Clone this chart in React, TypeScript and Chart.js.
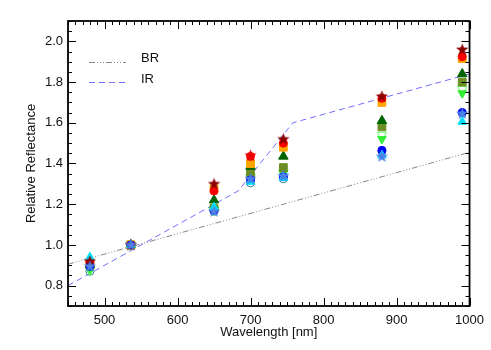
import { useEffect, useRef } from "react";
import { Chart, registerables } from "chart.js";
Chart.register(...registerables);

const wavelengths = [480, 536, 650, 700, 745, 880, 990];
const xTickLabels = [500, 600, 700, 800, 900, 1000];
const yTickLabels = [0.8, 1.0, 1.2, 1.4, 1.6, 1.8, 2.0];

const brX = [450, 1000];
const brY = [0.905, 1.455];
const irX = [450, 683, 758, 1000];
const irY = [0.8, 1.265, 1.6, 1.84];

const cornflowerStar = [0.895, 1.0, 1.165, 1.325, 1.34, 1.435, 1.645];
const darkredStar = [0.92, 1.0, 1.3, 1.44, 1.52, 1.73, 1.96];
const cyanTriangle = [0.94, 1.0, 1.185, 1.31, 1.33, 1.44, 1.605];
const blueCircle = [0.895, 1.0, 1.17, 1.32, 1.335, 1.465, 1.65];
const redCircle = [0.915, 1.0, 1.265, 1.435, 1.5, 1.72, 1.925];
const orangeSquare = [0.91, 1.0, 1.275, 1.4, 1.48, 1.7, 1.915];
const darkgreenTriangle = [0.905, 1.0, 1.22, 1.385, 1.435, 1.61, 1.84];
const oliveSquare = [0.9, 1.0, 1.18, 1.35, 1.38, 1.58, 1.8];
const limeTriangleDown = [0.88, 1.0, 1.175, 1.33, 1.35, 1.52, 1.745];
const openTriangleDown = [0.875, 1.0, 1.17, 1.335, 1.355, 1.54, 1.765];
const openCircle = [0.87, 1.0, 1.165, 1.305, 1.325, 1.46, 1.65];

function makeStar(color: string): HTMLCanvasElement {
  const c = document.createElement("canvas");
  c.width = 13;
  c.height = 13;
  const g = c.getContext("2d")!;
  const cx = 6.5, cy = 6.8, R = 6.4, r = 2.7;
  g.beginPath();
  for (let i = 0; i < 10; i++) {
    const ang = -Math.PI / 2 + (i * Math.PI) / 5;
    const rad = i % 2 === 0 ? R : r;
    const px = cx + rad * Math.cos(ang);
    const py = cy + rad * Math.sin(ang);
    if (i === 0) g.moveTo(px, py);
    else g.lineTo(px, py);
  }
  g.closePath();
  g.fillStyle = color;
  g.fill();
  return c;
}

function pts(ys: number[]) {
  return wavelengths.map((x, i) => ({ x, y: ys[i] }));
}
function linePts(xs: number[], ys: number[]) {
  return xs.map((x, i) => ({ x, y: ys[i] }));
}

const FONT = "'Liberation Sans', Arial, Helvetica, sans-serif";

const framePlugin = {
  id: "frame",
  afterDatasetsDraw(chart: any) {
    const { ctx, chartArea: a, scales } = chart;
    const x = scales.x, y = scales.y;
    ctx.save();
    ctx.strokeStyle = "#000";
    ctx.lineWidth = 1;
    ctx.beginPath();
    for (let v = 450; v <= 1000; v += 10) {
      const px = Math.round(x.getPixelForValue(v)) + 0.5;
      const L = v % 100 === 0 ? 8 : 4;
      ctx.moveTo(px, a.bottom);
      ctx.lineTo(px, a.bottom - L);
      ctx.moveTo(px, a.top);
      ctx.lineTo(px, a.top + L);
    }
    for (let i = 14; i <= 42; i++) {
      const py = Math.round(y.getPixelForValue(i * 0.05)) + 0.5;
      const L = i % 4 === 0 ? 8 : 4;
      ctx.moveTo(a.left, py);
      ctx.lineTo(a.left + L, py);
      ctx.moveTo(a.right, py);
      ctx.lineTo(a.right - L, py);
    }
    ctx.stroke();
    ctx.lineWidth = 1.8;
    ctx.strokeRect(a.left, a.top, a.right - a.left, a.bottom - a.top);

    // legend
    ctx.lineWidth = 1;
    ctx.strokeStyle = "#888";
    ctx.setLineDash([6, 2, 1, 2, 1, 2, 1, 2]);
    ctx.beginPath();
    ctx.moveTo(89, 62.5);
    ctx.lineTo(126, 62.5);
    ctx.stroke();
    ctx.strokeStyle = "#7070ff";
    ctx.setLineDash([6, 4]);
    ctx.beginPath();
    ctx.moveTo(89, 82.5);
    ctx.lineTo(126, 82.5);
    ctx.stroke();
    ctx.setLineDash([]);
    ctx.fillStyle = "#111";
    ctx.font = `13px ${FONT}`;
    ctx.textBaseline = "middle";
    ctx.textAlign = "left";
    ctx.fillText("BR", 141, 58);
    ctx.fillText("IR", 141, 79);
    ctx.restore();
  },
};

export default function App() {
  const ref = useRef<HTMLCanvasElement | null>(null);
  useEffect(() => {
    document.body.style.margin = "0";
    const canvas = ref.current!;
    const starDark = makeStar("#8b0000");
    const starRed = makeStar("#ee0000");
    const starBlue = makeStar("#4a80e8");

    const marker = (
      label: string,
      ys: number[],
      color: string,
      style: any,
      radius: number,
      extra: any = {}
    ) => ({
      type: "scatter" as const,
      label,
      data: pts(ys),
      pointStyle: style,
      pointRadius: radius,
      backgroundColor: color,
      borderColor: color,
      borderWidth: 1,
      showLine: false,
      ...extra,
    });

    const chart = new Chart(canvas, {
      type: "scatter",
      data: {
        datasets: [
          marker("cornflower star", cornflowerStar, "#4a80e8", starBlue, 6),
          marker(
            "darkred star",
            darkredStar,
            "#8b0000",
            wavelengths.map((w) => (w === 700 ? starRed : starDark)),
            6
          ),
          marker("cyan triangle", cyanTriangle, "#00e0ff", "triangle", 5),
          marker("blue circle", blueCircle, "#0000ff", "circle", 4),
          marker("red circle", redCircle, "#ff0000", "circle", 4),
          marker("orange square", orangeSquare, "#ffa500", "rect", 5.5),
          marker("darkgreen triangle", darkgreenTriangle, "#006400", "triangle", 5.5),
          marker("olive square", oliveSquare, "#6b8e23", "rect", 5.5),
          marker("lime triangle down", limeTriangleDown, "#33ee33", "triangle", 5, {
            rotation: 180,
          }),
          marker("open triangle down", openTriangleDown, "#66ff66", "triangle", 5.5, {
            rotation: 180,
            backgroundColor: "rgba(0,0,0,0)",
          }),
          marker("open circle", openCircle, "#2f7f8f", "circle", 4, {
            backgroundColor: "rgba(0,0,0,0)",
          }),
          {
            type: "scatter" as const,
            label: "IR",
            data: linePts(irX, irY),
            showLine: true,
            borderColor: "#7070ff",
            borderWidth: 1,
            borderDash: [6, 4],
            pointRadius: 0,
            fill: false,
          },
          {
            type: "scatter" as const,
            label: "BR",
            data: linePts(brX, brY),
            showLine: true,
            borderColor: "#888",
            borderWidth: 1,
            borderDash: [6, 2, 1, 2, 1, 2, 1, 2],
            pointRadius: 0,
            fill: false,
          },
        ],
      },
      options: {
        animation: false,
        responsive: false,
        layout: { padding: { top: 21, right: 21, left: 0, bottom: 0 } },
        plugins: {
          legend: { display: false },
          tooltip: { enabled: false },
        },
        scales: {
          x: {
            type: "linear",
            min: 450,
            max: 1000,
            grid: { display: false, drawTicks: false },
            border: { display: false },
            afterBuildTicks: (s: any) => {
              s.ticks = xTickLabels.map((v) => ({ value: v }));
            },
            afterFit: (s: any) => {
              s.height = 44;
            },
            ticks: {
              color: "#111",
              padding: 7,
              maxRotation: 0,
              font: { family: FONT, size: 13 },
              callback: (v: any) => String(v),
            },
            title: {
              display: true,
              text: "Wavelength [nm]",
              color: "#111",
              font: { family: FONT, size: 13 },
              padding: { top: 0, bottom: 10 },
            },
          },
          y: {
            type: "linear",
            min: 0.7,
            max: 2.1,
            grid: { display: false, drawTicks: false },
            border: { display: false },
            afterBuildTicks: (s: any) => {
              s.ticks = yTickLabels.map((v) => ({ value: v }));
            },
            afterFit: (s: any) => {
              s.width = 68;
            },
            ticks: {
              color: "#111",
              padding: 5,
              font: { family: FONT, size: 13 },
              callback: (v: any) => Number(v).toFixed(1),
            },
            title: {
              display: true,
              text: "Relative Reflectance",
              color: "#111",
              font: { family: FONT, size: 13 },
              padding: { top: 24, bottom: 0 },
            },
          },
        },
      },
      plugins: [framePlugin],
    });
    return () => chart.destroy();
  }, []);
  return <canvas ref={ref} width={491} height={350} style={{ display: "block" }} />;
}
